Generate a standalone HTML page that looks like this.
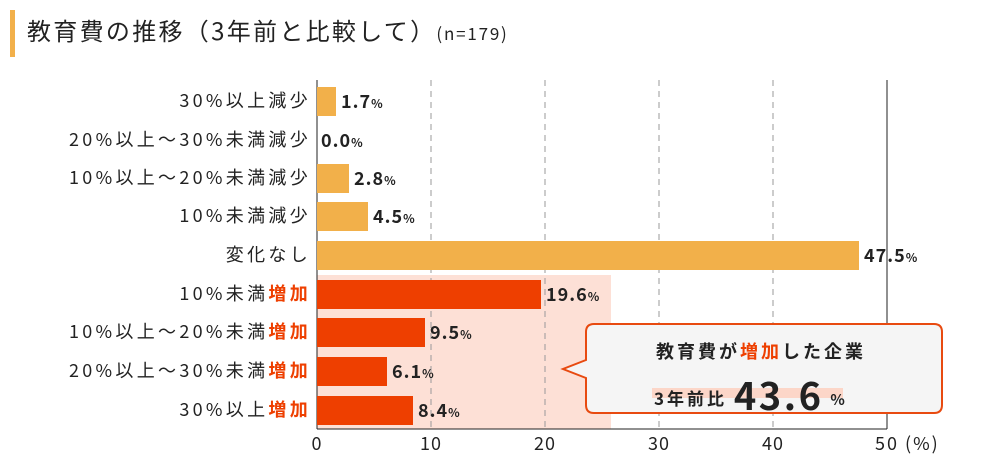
<!DOCTYPE html>
<html><head><meta charset="utf-8"><style>
body{margin:0;background:#fff;width:1000px;height:465px;overflow:hidden;position:relative;font-family:"Noto Sans CJK JP","Liberation Sans",sans-serif;color:#222}
.a{position:absolute}
.lab{position:absolute;right:689px;font-size:18px;white-space:nowrap;line-height:20px;letter-spacing:3.3px}
.r{color:#ee3f00}
.v{position:absolute;font-size:18px;font-weight:bold;line-height:20px;white-space:nowrap;letter-spacing:1px}
.v small{font-size:12px}
.tick{position:absolute;top:430px;font-size:18px;transform:translateX(-50%);letter-spacing:1px}
</style></head><body>
<div class="a" style="left:10px;top:10px;width:5px;height:47px;background:#f2b04a"></div>
<div class="a" style="left:27px;top:12px;font-size:24px;white-space:nowrap;letter-spacing:2.3px">教育費の推移（3年前と比較して）<span style="font-size:17px;letter-spacing:1.8px">(n=179)</span></div>
<svg class="a" style="left:0;top:0" width="1000" height="465">
<rect x="317" y="275" width="294" height="154" fill="#fde0d6"/>
<g stroke="#999" stroke-dasharray="6,5" stroke-width="1">
<line x1="431" y1="80" x2="431" y2="429"/><line x1="545" y1="80" x2="545" y2="429"/>
<line x1="659" y1="80" x2="659" y2="429"/><line x1="773" y1="80" x2="773" y2="429"/></g>
<line x1="317" y1="80" x2="317" y2="429" stroke="#222"/>
<line x1="887" y1="80" x2="887" y2="429" stroke="#222"/>
<line x1="317" y1="429" x2="887" y2="429" stroke="#222"/>
<g fill="#f2b04a">
<rect x="317" y="87" width="19" height="29"/><rect x="317" y="164" width="32" height="29"/>
<rect x="317" y="202" width="51" height="29"/><rect x="317" y="241" width="542" height="29"/></g>
<g fill="#ee3f00">
<rect x="317" y="280" width="224" height="29"/><rect x="317" y="318" width="108" height="29"/>
<rect x="317" y="357" width="70" height="29"/><rect x="317" y="396" width="96" height="29"/></g>
<path d="M594,324 H934 Q942,324 942,332 V405 Q942,413 934,413 H594 Q586,413 586,405 V378 L563,369 L586,360 V332 Q586,324 594,324 Z" fill="#f5f5f5" stroke="#e84a10" stroke-width="2"/>
<rect x="652" y="388" width="191" height="10" fill="#fcd6c8"/>
</svg>
<div class="lab" style="top:90px">30%以上減少</div>
<div class="lab" style="top:129px">20%以上～30%未満減少</div>
<div class="lab" style="top:167px">10%以上～20%未満減少</div>
<div class="lab" style="top:205px">10%未満減少</div>
<div class="lab" style="top:244px">変化なし</div>
<div class="lab" style="top:283px">10%未満<span class="r" style="font-weight:bold">増加</span></div>
<div class="lab" style="top:321px">10%以上～20%未満<span class="r" style="font-weight:bold">増加</span></div>
<div class="lab" style="top:360px">20%以上～30%未満<span class="r" style="font-weight:bold">増加</span></div>
<div class="lab" style="top:399px">30%以上<span class="r" style="font-weight:bold">増加</span></div>
<div class="v" style="left:341px;top:91px">1.7<small>%</small></div>
<div class="v" style="left:321px;top:130px">0.0<small>%</small></div>
<div class="v" style="left:354px;top:168px">2.8<small>%</small></div>
<div class="v" style="left:373px;top:206px">4.5<small>%</small></div>
<div class="v" style="left:864px;top:245px">47.5<small>%</small></div>
<div class="v" style="left:546px;top:284px">19.6<small>%</small></div>
<div class="v" style="left:430px;top:322px">9.5<small>%</small></div>
<div class="v" style="left:392px;top:361px">6.1<small>%</small></div>
<div class="v" style="left:418px;top:400px">8.4<small>%</small></div>
<div class="a" style="left:656px;top:338px;font-size:18px;font-weight:bold;white-space:nowrap;letter-spacing:3px">教育費が<span class="r">増加</span>した企業</div>
<div class="a" style="left:654px;top:366px;font-size:17px;font-weight:bold;white-space:nowrap;letter-spacing:3px">3年前比 <span style="font-size:38px;vertical-align:-5px;letter-spacing:2.5px">43.6</span> <span style="font-size:15px">%</span></div>
<div class="tick" style="left:317px">0</div>
<div class="tick" style="left:431px">10</div>
<div class="tick" style="left:545px">20</div>
<div class="tick" style="left:659px">30</div>
<div class="tick" style="left:773px">40</div>
<div class="a" style="left:875px;top:430px;font-size:18px;white-space:nowrap;letter-spacing:2px">50 (%)</div>
</body></html>
